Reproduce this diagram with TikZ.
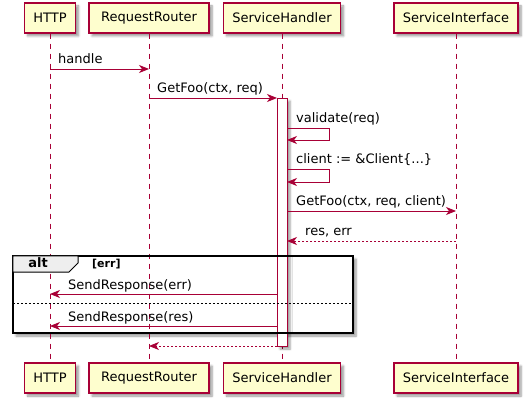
\documentclass[tikz,border=0pt]{standalone}
\usepackage{fontspec}
\setmainfont{DejaVu Sans}
\usetikzlibrary{arrows.meta,shadows.blur}
\definecolor{puRed}{HTML}{A80036}
\definecolor{puFill}{HTML}{FEFECE}
\definecolor{puTab}{HTML}{EEEEEE}
\begin{document}
\begin{tikzpicture}[x=1pt,y=-1pt,
  part/.style={draw=puRed,fill=puFill,line width=1.2pt,minimum height=30pt,inner sep=0pt,
    font=\fontsize{13}{15}\selectfont,blur shadow={shadow xshift=3pt,shadow yshift=-3pt,shadow blur steps=6,shadow opacity=40}},
  life/.style={draw=puRed,line width=0.9pt,dash pattern=on 5pt off 5pt},
  msg/.style={draw=puRed,line width=0.9pt,-{Stealth[length=10pt,width=8pt,inset=3pt]}},
  ret/.style={msg,dash pattern=on 2pt off 2pt},
  lbl/.style={anchor=base west,inner sep=0pt,font=\fontsize{13}{15}\selectfont},
]
\useasboundingbox (0,0) rectangle (527,403);
% alt frame background (white with shadow), drawn first
\node[fill=white,minimum width=340pt,minimum height=77pt,inner sep=0pt,
  blur shadow={shadow xshift=3pt,shadow yshift=-3pt,shadow blur steps=6,shadow opacity=40}] (alt) at (183,294.5) {};
% participants
\node[part,minimum width=51pt] (ht) at (50,18) {HTTP};
\node[part,minimum width=120pt] (rr) at (149,18) {RequestRouter};
\node[part,minimum width=117pt] (sh) at (282,18) {ServiceHandler};
\node[part,minimum width=124pt] (si) at (456,18) {ServiceInterface};
\node[part,minimum width=51pt] (hb) at (50,378) {HTTP};
\node[part,minimum width=120pt] (rb) at (149,378) {RequestRouter};
\node[part,minimum width=117pt] (sb) at (282,378) {ServiceHandler};
\node[part,minimum width=124pt] (ib) at (456,378) {ServiceInterface};
% lifelines
\draw[life] (ht.south) -- (hb.north);
\draw[life] (rr.south) -- (rb.north);
\draw[life] (sh.south) -- (sb.north);
\draw[life] (si.south) -- (ib.north);
% activation
\node[draw=puRed,fill=white,line width=0.9pt,minimum width=10pt,minimum height=248pt,inner sep=0pt,
  blur shadow={shadow xshift=3pt,shadow yshift=-3pt,shadow blur steps=4,shadow opacity=40}] (act) at (282,222) {};
% alt frame border and tab
\draw[black,line width=1.6pt] (alt.north west) rectangle (alt.south east);
\draw[black,line width=1pt,fill=puTab] (alt.north west) -- (78,256) -- (78,263) -- (69,272) -- (13,272) -- cycle;
\node[anchor=base,inner sep=0pt,font=\fontsize{13}{15}\selectfont\bfseries] (altl) at (38,268) {alt};
\node[anchor=base west,inner sep=0pt,font=\fontsize{11}{13}\selectfont\bfseries] (cond) at (92,268) {[err]};
\coordinate (sepL) at (13,303);
\coordinate (sepR) at (353,303);
\draw[black,line width=0.9pt,dash pattern=on 2pt off 2pt] (sepL) -- (sepR);
% message coordinates
\coordinate (m1a) at (50,69);  \coordinate (m1b) at (149,69);
\coordinate (m2a) at (149,98); \coordinate (m2b) at (277,98);
\coordinate (m3a) at (287,128); \coordinate (m3b) at (287,140);
\coordinate (m4a) at (287,169); \coordinate (m4b) at (287,182);
\coordinate (m5a) at (287,211); \coordinate (m5b) at (456,211);
\coordinate (m6a) at (456,241); \coordinate (m6b) at (287,241);
\coordinate (m7a) at (277,294); \coordinate (m7b) at (50,294);
\coordinate (m8a) at (277,326); \coordinate (m8b) at (50,326);
\coordinate (m9a) at (277,346); \coordinate (m9b) at (149,346);
\draw[msg] (m1a) -- (m1b);
\draw[msg] (m2a) -- (m2b);
\draw[msg] (m3a) -- ++(42,0) |- (m3b);
\draw[msg] (m4a) -- ++(42,0) |- (m4b);
\draw[msg] (m5a) -- (m5b);
\draw[ret] (m6a) -- (m6b);
\draw[msg] (m7a) -- (m7b);
\draw[msg] (m8a) -- (m8b);
\draw[ret] (m9a) -- (m9b);
% labels
\node[lbl] (t1) at (58,64) {handle};
\node[lbl] (t2) at (157,93) {GetFoo(ctx, req)};
\node[lbl] (t3) at (296,123) {validate(req)};
\node[lbl] (t4) at (296,164) {client := \&Client\{...\}};
\node[lbl] (t5) at (296,206) {GetFoo(ctx, req, client)};
\node[lbl] (t6) at (305,236) {res, err};
\node[lbl] (t7) at (68,289) {SendResponse(err)};
\node[lbl] (t8) at (68,321) {SendResponse(res)};
\end{tikzpicture}
\end{document}
